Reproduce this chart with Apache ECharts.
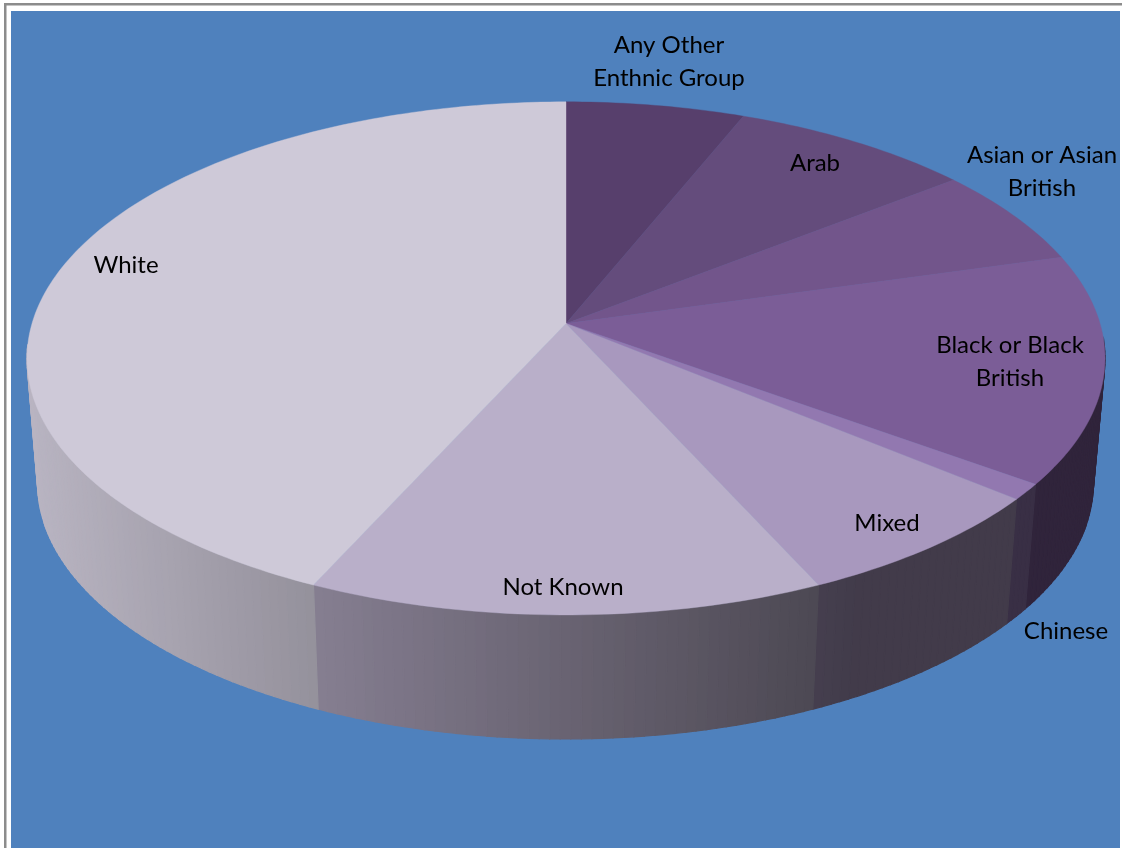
<!DOCTYPE html>
<html>
<head>
<meta charset="utf-8">
<style>html,body{margin:0;padding:0;background:#fff}#chart{width:1122px;height:848px}</style>
<script src="https://cdn.jsdelivr.net/npm/echarts@6/dist/echarts.min.js"></script>
</head>
<body>
<div id="chart"></div>
<script>
// Ethnic group shares, clockwise from twelve o'clock (percent).
const categories = ['Any Other Enthnic Group', 'Arab', 'Asian or Asian British', 'Black or Black British', 'Chinese', 'Mixed', 'Not Known', 'White'];
const shares = [6.1, 8.3, 6.2, 14.4, 1.0, 7.2, 13.6, 43.2];
const sliceColors = ['#573F6C', '#644C7C', '#72558B', '#7B5D97', '#9278B0', '#A898BE', '#B9AFC9', '#CEC9D8'];

// Wrapped label text and where each label sits on the page.
const labelLines = ['Any Other\nEnthnic Group', 'Arab', 'Asian or Asian\nBritish', 'Black or Black\nBritish', 'Chinese', 'Mixed', 'Not Known', 'White'];
const labelCentres = [[669, 62], [815, 163], [1042, 172], [1010, 362], [1066, 631], [887, 523], [563, 587], [126, 265]];

// Perspective disc: circle point (u, v) maps to screen with a shared foreshortening k.
const K = 0.136;
const topFace = { x0: 566, y0: 323.5, a: 251.8, b: 534 };
const bottomFace = { x0: 565.5, y0: 448, a: 251.4, b: 523 };

function project(face, angle) {
  const u = Math.sin(angle), v = -Math.cos(angle), w = 1 - K * v;
  return [face.x0 + face.b * u / w, face.y0 + face.a * v / w];
}

const total = shares.reduce((s, x) => s + x, 0);
const startAngles = [];
shares.reduce((acc, x, i) => { startAngles[i] = acc / total * Math.PI * 2; return acc + x; }, 0);

function sweep(i) {
  return [startAngles[i], startAngles[i] + shares[i] / total * Math.PI * 2];
}

// Side walls darken from left to right, as if lit from the left.
function wallShade(x) {
  return Math.max(0.39, 0.89 - 0.00061 * (x - 37));
}
function shadeColor(hex, s) {
  const n = parseInt(hex.slice(1), 16);
  return 'rgb(' + [(n >> 16) & 255, (n >> 8) & 255, n & 255].map(c => Math.round(c * s)).join(',') + ')';
}

function renderWall(params, api) {
  const i = params.dataIndex, [a0, a1] = sweep(i);
  const bands = Math.max(1, Math.round((a1 - a0) / (Math.PI / 180)));
  const children = [];
  for (let b = 0; b < bands; b++) {
    const s = a0 + (a1 - a0) * b / bands, e = a0 + (a1 - a0) * (b + 1) / bands;
    // The far rim is hidden behind the top face, so only the near arc gets a wall.
    if (-Math.cos((s + e) / 2) < K - 0.06) continue;
    const pts = [project(topFace, s), project(topFace, e), project(bottomFace, e), project(bottomFace, s)];
    const fill = shadeColor(sliceColors[i], wallShade((pts[0][0] + pts[1][0]) / 2));
    children.push({
      type: 'polygon', shape: { points: pts },
      style: { fill: fill, stroke: fill, lineWidth: 1.2 }, silent: true
    });
  }
  return { type: 'group', children: children };
}

function renderTop(params, api) {
  const i = params.dataIndex, [a0, a1] = sweep(i);
  const steps = Math.max(2, Math.ceil((a1 - a0) / (Math.PI / 180)));
  const pts = [[topFace.x0, topFace.y0]];
  for (let s = 0; s <= steps; s++) pts.push(project(topFace, a0 + (a1 - a0) * s / steps));
  return {
    type: 'polygon', shape: { points: pts },
    style: { fill: sliceColors[i], stroke: sliceColors[i], lineWidth: 0.4 }
  };
}

function renderLabel(params, api) {
  const i = params.dataIndex, c = labelCentres[i];
  return {
    type: 'text', x: c[0], y: c[1], silent: true,
    style: {
      text: labelLines[i], fill: '#000', font: '24px Lato',
      align: 'center', verticalAlign: 'middle', lineHeight: 33
    }
  };
}

const rows = categories.map((name, i) => ({ name: name, value: shares[i] }));
const chart = echarts.init(document.getElementById('chart'), null, { renderer: 'canvas' });
chart.setOption({
  animation: false,
  backgroundColor: '#ffffff',
  graphic: [
    { type: 'rect', z: 0, shape: { x: 4, y: 3, width: 1118, height: 2.5 }, style: { fill: '#8c8c8c' } },
    { type: 'rect', z: 0, shape: { x: 4, y: 3, width: 2.5, height: 845 }, style: { fill: '#8c8c8c' } },
    { type: 'rect', z: 0, shape: { x: 11, y: 11, width: 1109, height: 837 }, style: { fill: '#4F81BD' } }
  ],
  series: [
    { type: 'custom', name: 'Walls', coordinateSystem: 'none', z: 2, renderItem: renderWall, data: rows },
    { type: 'custom', name: 'Slices', coordinateSystem: 'none', z: 3, renderItem: renderTop, data: rows },
    { type: 'custom', name: 'Labels', coordinateSystem: 'none', z: 4, renderItem: renderLabel, data: rows }
  ]
});
</script>
</body>
</html>
